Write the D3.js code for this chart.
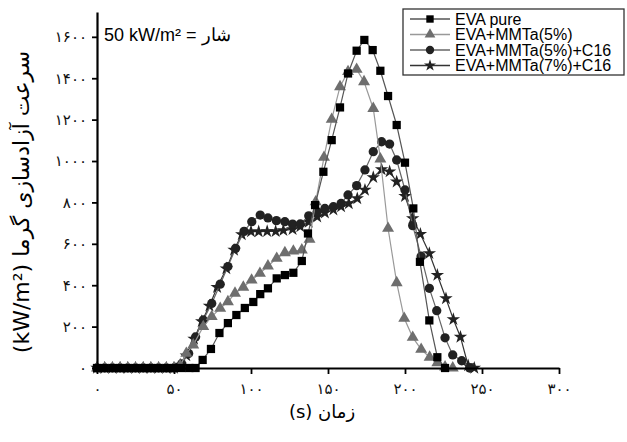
<!DOCTYPE html>
<html>
<head>
<meta charset="utf-8">
<script src="https://cdn.jsdelivr.net/npm/d3@7"></script>
<style>
  body { margin: 0; background: #fff; }
  svg text { font-family: "DejaVu Sans", sans-serif; }
</style>
</head>
<body>
<div id="app"></div>
<script>
// Heat release rate (kW/m2) vs time (s)
const pureT = [0, 5, 10, 15, 20, 25, 30, 35, 40, 45, 50, 55, 60, 64, 68.6, 74, 79.5, 85, 90.5, 96, 101.5, 106, 111, 116.7, 122, 127.5, 133, 137, 141.6, 147, 152.4, 157.8, 163, 168.6, 173.6, 179, 184, 189, 194.6, 200, 205.4, 209.7, 215.8, 221, 226];
const pureV = [0, 0, 0, 0, 0, 0, 0, 0, 0, 0, 0, 0, 0, 0, 39, 92, 169, 217, 256, 290, 319, 357, 385, 433, 449, 460, 517, 650, 787, 948, 1101, 1259, 1423, 1533, 1585, 1536, 1436, 1314, 1174, 992, 771, 513, 230, 52, 0];

const mmt5T = [0, 5, 10, 15, 20, 25, 30, 35, 40, 45, 50, 54, 58, 62.5, 69, 74.5, 80, 85, 89.6, 95, 100.4, 105.8, 111, 116.7, 122, 127.5, 133, 138, 142, 147.4, 152.4, 157.8, 163, 168.6, 173.4, 179.4, 184, 189, 194.6, 199.5, 205, 210.5, 216, 221, 226, 231];
const mmt5V = [0, 0, 0, 0, 0, 0, 0, 0, 0, 0, 0, 10, 71, 111, 200, 248, 288, 320, 361, 390, 425, 457, 493, 530, 557, 565, 570, 622, 803, 1018, 1201, 1359, 1432, 1443, 1383, 1254, 1010, 675, 412, 240, 148, 90, 52, 25, 5, 0];

const mmt5cT = [0, 5, 10, 15, 20, 25, 30, 35, 40, 45, 50, 55, 59.5, 64, 69, 74.5, 80, 85, 90, 95.5, 100.5, 106, 111, 116.5, 122, 127, 132, 137.5, 143, 148, 153.5, 158.5, 163, 168.6, 174, 179.4, 184.8, 190, 194.6, 200, 205, 210.5, 215.8, 220.6, 226, 231, 236.8, 242];
const mmt5cV = [0, 0, 0, 0, 0, 0, 0, 0, 0, 0, 0, 20, 70, 150, 232, 312, 405, 490, 578, 660, 707, 739, 725, 712, 707, 695, 696, 735, 755, 771, 779, 795, 836, 881, 957, 1045, 1093, 1082, 1005, 860, 688, 540, 385, 277, 146, 63, 35, 0];

const mmt7cT = [0, 5, 10, 15, 20, 25, 30, 35, 40, 45, 50, 54, 58, 63, 68, 73, 78, 84, 89, 94, 100, 105, 110.5, 116, 121, 127, 132, 137.5, 143, 148, 153.5, 158.5, 163.5, 169, 174, 179.4, 184.8, 190, 194.6, 200, 205, 210, 215.8, 221, 226.6, 231.4, 236, 241, 245];
const mmt7cV = [0, 0, 0, 0, 0, 0, 0, 0, 0, 0, 0, 15, 60, 140, 225, 300, 390, 480, 570, 645, 659, 659, 660, 660, 665, 670, 683, 705, 730, 750, 765, 780, 795, 819, 860, 921, 959, 949, 900, 830, 723, 647, 554, 449, 336, 235, 150, 12, 0];

const seriesNames = ["EVA pure", "EVA+MMTa(5%)", "EVA+MMTa(5%)+C16", "EVA+MMTa(7%)+C16"];

const xTicks = [0, 50, 100, 150, 200, 250, 300];
const xTickLabels = ["۰", "۵۰", "۱۰۰", "۱۵۰", "۲۰۰", "۲۵۰", "۳۰۰"];
const yTicks = [0, 200, 400, 600, 800, 1000, 1200, 1400, 1600];
const yTickLabels = ["۰", "۲۰۰", "۴۰۰", "۶۰۰", "۸۰۰", "۱۰۰۰", "۱۲۰۰", "۱۴۰۰", "۱۶۰۰"];

function drawChart(target) {
  const width = 627, height = 442;
  const svg = d3.select(target).append("svg")
    .attr("width", width)
    .attr("height", height);

  const x = d3.scaleLinear().domain([0, 300]).range([97, 559]);
  const y = d3.scaleLinear().domain([0, 1720]).range([368, 12]);

  // series styling: marker symbol, line colour, marker fill, symbol area
  const styles = [
    { sym: d3.symbolSquare, line: "#555", fill: "#000", size: 68 },
    { sym: d3.symbolTriangle, line: "#999", fill: "#6e6e6e", size: 62 },
    { sym: d3.symbolCircle, line: "#666", fill: "#222", size: 68 },
    { sym: d3.symbolStar, line: "#333", fill: "#222", size: 56 }
  ];
  const data = [
    d3.zip(pureT, pureV),
    d3.zip(mmt5T, mmt5V),
    d3.zip(mmt5cT, mmt5cV),
    d3.zip(mmt7cT, mmt7cV)
  ];

  const line = d3.line().x(d => x(d[0])).y(d => y(d[1]));

  // draw back to front, pure on top
  [3, 2, 1, 0].forEach(i => {
    const g = svg.append("g");
    g.append("path")
      .datum(data[i])
      .attr("fill", "none")
      .attr("stroke", styles[i].line)
      .attr("stroke-width", 1.2)
      .attr("d", line);
    g.selectAll("path.m")
      .data(data[i])
      .join("path")
      .attr("class", "m")
      .attr("transform", d => `translate(${x(d[0])},${y(d[1])})`)
      .attr("d", d3.symbol().type(styles[i].sym).size(styles[i].size))
      .attr("fill", styles[i].fill);
  });

  // axes
  const xAxis = svg.append("g")
    .attr("transform", `translate(0,${y(0)})`)
    .call(d3.axisBottom(x).tickValues(xTicks).tickFormat((d, i) => xTickLabels[i]).tickSize(6).tickSizeOuter(0).tickPadding(9));
  const yAxis = svg.append("g")
    .attr("transform", `translate(${x(0)},0)`)
    .call(d3.axisLeft(y).tickValues(yTicks).tickFormat((d, i) => yTickLabels[i]).tickSize(5).tickSizeOuter(0).tickPadding(5));
  [xAxis, yAxis].forEach(a => {
    a.select(".domain").attr("stroke", "#000").attr("stroke-width", 2.2);
    a.selectAll(".tick line").attr("stroke", "#000").attr("stroke-width", 1.8);
    a.selectAll(".tick text").attr("fill", "#111").style("font-size", "15px");
  });

  // axis titles
  svg.append("text")
    .attr("x", 322).attr("y", 418)
    .attr("text-anchor", "middle")
    .attr("direction", "rtl")
    .style("font-size", "18px")
    .text("زمان (s)");

  svg.append("text")
    .attr("transform", "translate(29,202) rotate(-90)")
    .attr("text-anchor", "middle")
    .attr("direction", "rtl")
    .style("font-size", "22px")
    .text("سرعت آزادسازی گرما (kW/m²)");

  // flux annotation
  svg.append("text")
    .attr("x", 104).attr("y", 41)
    .style("font-family", "'Liberation Sans', Arial, sans-serif")
    .style("font-size", "18px")
    .text("50 kW/m² = شار");

  // legend
  const lg = svg.append("g").attr("transform", "translate(403,9)");
  lg.append("rect")
    .attr("width", 221).attr("height", 66)
    .attr("fill", "#fff").attr("stroke", "#333").attr("stroke-width", 1.3);
  seriesNames.forEach((name, i) => {
    const row = lg.append("g").attr("transform", `translate(0,${10 + i * 15.5})`);
    row.append("line")
      .attr("x1", 7).attr("x2", 47)
      .attr("stroke", styles[i].line).attr("stroke-width", 1.5);
    row.append("path")
      .attr("transform", "translate(27,0)")
      .attr("d", d3.symbol().type(styles[i].sym).size(styles[i].size * 0.8))
      .attr("fill", styles[i].fill);
    row.append("text")
      .attr("x", 52).attr("y", 5.5)
      .style("font-family", "'Liberation Sans', Arial, sans-serif")
      .style("font-size", "16px")
      .text(name);
  });
}

document.addEventListener("DOMContentLoaded", () => drawChart("#app"));
</script>
</body>
</html>
